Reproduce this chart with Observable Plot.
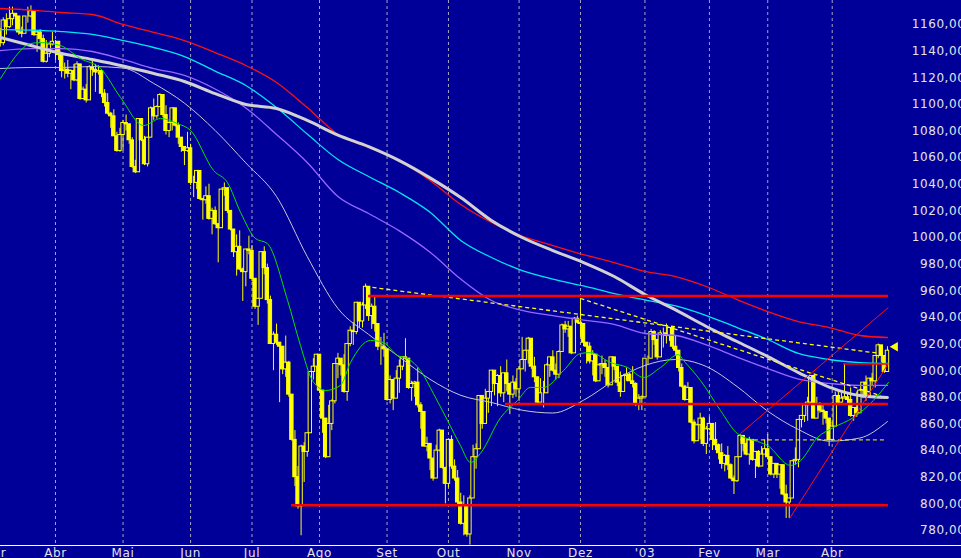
<!DOCTYPE html>
<html><head><meta charset="utf-8">
<script src="https://cdn.jsdelivr.net/npm/d3@7"></script>
<script src="https://cdn.jsdelivr.net/npm/@observablehq/plot@0.6"></script>
<style>
html,body{margin:0;padding:0;background:#000099;overflow:hidden;}
#chart svg{display:block;}
#chart text{letter-spacing:0.6px;}
</style></head><body><div id="chart"></div>
<script>
// Daily sessions from 5 Mar 2002 to 28 Apr 2003 (index = trading day)
const closes = [1146,1163,1158,1164,1168,1166,1154,1153,1166,1166,1170,1152,1154,1149,1132,1138,1145,1147,
1147,1137,1125,1126,1123,1125,1118,1130,1104,1111,1103,1128,1126,1124,1125,1108,1101,1093,1091,1076,1065,1077,
1086,1085,1073,1053,1049,1089,1073,1055,1075,1097,1091,1098,1107,1092,1080,1086,1097,1084,1075,1068,1065,1067,
1041,1041,1050,1029,1028,1031,1014,1020,1010,1007,1036,1037,1020,1006,989,993,976,974,991,990,
969,948,954,989,977,953,920,927,921,918,901,906,882,848,820,798,843,839,853,899,903,912,
885,864,835,860,877,905,909,904,884,920,930,929,951,937,949,963,941,948,935,918,918,916,
878,893,879,894,903,910,909,887,890,891,874,869,843,845,834,819,840,855,827,815,
848,828,819,801,785,799,777,804,835,841,881,860,879,884,900,890,896,883,898,890,882,891,886,
901,908,915,924,903,895,876,883,883,904,910,900,897,914,934,931,933,913,939,936,
935,921,918,907,912,892,904,905,902,889,910,903,891,884,896,897,892,890,875,879,880,
909,909,929,923,910,928,928,926,932,918,915,902,888,878,887,861,847,859,864,845,856,
860,848,844,838,830,836,829,819,817,835,851,845,837,848,833,839,828,837,841,
835,822,830,822,829,807,801,804,832,833,863,866,874,876,896,864,875,870,869,864,848,
858,881,876,879,880,878,866,872,868,885,891,880,894,892,911,919,911,899,915];

const opens = [1154,1146,1163,1158,1164,1168,1166,1154,1153,1166,1166,1170,1152,1154,1149,1132,1138,1145,
1147,1147,1137,1125,1126,1123,1125,1118,1130,1104,1111,1103,1128,1126,1124,1125,1108,1101,1093,1091,1076,1065,
1077,1086,1085,1073,1053,1049,1089,1073,1055,1075,1097,1091,1098,1107,1092,1080,1086,1097,1084,1075,1068,1065,
1067,1041,1041,1050,1029,1028,1031,1014,1020,1010,1007,1036,1037,1020,1006,989,993,976,974,991,
990,969,948,954,989,977,953,920,927,921,918,901,906,882,848,820,798,843,839,853,899,903,
912,885,864,835,860,877,905,909,904,884,920,930,929,951,937,949,963,941,948,935,918,918,
916,878,893,879,894,903,910,909,887,890,891,874,869,843,845,834,819,840,855,827,
815,848,828,819,801,785,799,777,804,835,841,881,860,879,884,900,890,896,883,898,890,882,891,
886,901,908,915,924,903,895,876,883,883,904,910,900,897,914,934,931,933,913,939,
936,935,921,918,907,912,892,904,905,902,889,910,903,891,884,896,897,892,890,875,879,
880,909,909,929,923,910,928,928,926,932,918,915,902,888,878,887,861,847,859,864,845,
856,860,848,844,838,830,836,829,819,817,835,851,845,837,848,833,839,828,837,
841,835,822,830,822,829,807,801,804,832,833,863,866,874,876,896,864,875,870,869,864,
848,858,881,876,879,880,878,866,872,868,885,891,880,894,892,911,919,911,899];

const highs = [1157,1165,1168,1173,1173,1168,1166,1158,1166,1173,1174,1170,1155,1156,1152,1148,1146,1154,
1148,1147,1138,1131,1133,1126,1130,1132,1130,1113,1115,1129,1133,1130,1129,1126,1111,1108,1094,1096,1079,1082,
1088,1092,1085,1075,1058,1089,1089,1076,1075,1098,1104,1099,1108,1107,1099,1087,1097,1097,1086,1075,1068,1079,
1070,1046,1050,1050,1029,1038,1040,1022,1023,1010,1036,1041,1037,1020,1006,1002,1005,977,991,1001,
994,969,954,989,993,980,956,929,935,921,918,926,907,882,855,828,844,846,853,899,909,912,
912,885,864,874,878,905,913,909,912,920,933,936,951,951,951,965,963,950,956,935,925,928,
916,896,893,900,908,910,924,909,892,892,902,876,869,850,845,834,844,856,855,827,
848,851,833,825,808,806,799,806,844,845,881,881,886,884,900,900,897,903,898,908,890,896,894,
903,925,915,925,924,910,895,894,892,905,910,915,905,915,935,937,937,933,940,941,
954,935,921,921,915,912,905,911,908,902,910,910,903,899,897,902,898,903,891,882,881,
909,911,931,930,923,930,932,935,932,932,926,915,905,889,891,887,863,860,868,865,858,
865,860,861,845,845,837,843,830,821,835,852,851,849,850,848,839,840,843,848,
852,835,830,830,829,829,814,804,832,842,863,866,874,880,896,896,880,876,874,869,864,
861,884,885,883,905,883,887,872,884,886,891,896,894,898,911,920,919,911,918];

const lows = [1143,1144,1152,1157,1159,1155,1152,1150,1153,1161,1165,1151,1139,1146,1131,1131,1135,1144,
1133,1133,1120,1119,1120,1111,1117,1117,1103,1104,1101,1103,1121,1109,1122,1105,1098,1092,1082,1076,1064,1064,
1065,1080,1070,1052,1048,1049,1072,1054,1053,1075,1088,1089,1098,1090,1077,1075,1080,1083,1070,1064,1054,1064,
1039,1030,1036,1028,1013,1025,1013,1002,1009,981,1007,1031,1018,1005,985,971,975,952,963,987,
967,946,934,954,972,950,920,900,919,876,897,895,880,847,813,796,776,816,835,853,893,889,
883,853,834,835,855,875,894,896,883,877,918,919,927,932,932,946,937,931,929,915,904,910,
877,875,870,879,883,900,908,886,877,880,872,856,843,839,825,817,819,839,826,800,
812,826,817,799,784,776,775,769,804,826,841,856,860,868,873,881,873,880,876,884,867,879,880,
877,901,899,905,901,891,874,876,872,883,895,899,893,894,914,928,925,912,913,935,
925,918,905,905,896,891,892,897,895,887,889,900,888,880,884,892,892,887,873,870,870,
880,904,909,919,908,910,917,920,922,916,911,899,887,877,878,860,845,847,848,843,837,
855,840,840,833,826,824,825,818,807,816,835,839,836,829,832,819,827,828,837,
833,821,819,819,811,806,789,789,804,829,827,857,861,862,875,864,864,868,859,860,843,
848,858,875,874,879,874,865,862,865,868,879,877,879,888,887,909,906,898,899];

// Month boundaries (trading-day index) and labels
const monthLabels = ["Mar","Abr","Mai","Jun","Jul","Ago","Set","Out","Nov","Dez","'03","Fev","Mar","Abr"];
const monthStarts = [-2,18,40,62,82,104,126,146,169,189,210,231,250,271];
const yTicks = [780,800,820,840,860,880,900,920,940,960,980,1000,1020,1040,1060,1080,1100,1120,1140,1160];

const maIdx = [0,10,20,30,40,50,60,70,80,90,100,110,120,130,140,150,160,170,180,190,200,210,220,230,240,250,260,270,280,289];
const maRed = [1172.0,1170.8,1169.0,1167.5,1160.0,1154.0,1147.9,1138.9,1129.2,1116.4,1097.6,1077.4,1067.6,1057.8,1042.8,1024.8,1011.3,1001.1,994.0,987.2,981.2,974.5,970.7,963.2,953.4,944.4,936.9,932.4,926.4,924.9];
const maCyan = [1156.2,1155.8,1154.7,1152.5,1147.9,1142.7,1135.9,1125.0,1114.2,1097.6,1077.7,1058.6,1045.8,1033.8,1019.0,997.8,985.0,975.2,968.8,963.6,957.9,953.1,948.6,941.4,932.4,923.4,912.9,908.4,906.1,905.4];
const maWhiteThick = [1150.2,1144.2,1138.2,1133.7,1128.8,1123.2,1117.2,1108.1,1099.9,1096.9,1087.9,1076.9,1068.3,1057.8,1044.8,1030.0,1012.8,1000.0,990.2,981.2,970.7,957.2,945.6,933.2,921.9,910.6,898.6,887.7,881.3,879.8];
const maPurple = [1140.4,1141.9,1141.9,1139.7,1133.7,1126.9,1121.7,1111.5,1097.3,1077.4,1056.3,1030.8,1018.0,1005.0,989.0,968.8,952.7,945.3,941.4,938.0,934.7,927.9,926.4,919.3,910.2,901.6,893.7,890.4,888.9,888.9];
const maWhiteThin = [1126.9,1127.7,1127.7,1128.4,1127.3,1115.7,1100.9,1080.4,1056.0,1030.8,985.7,946.7,927.2,910.3,893.5,881.5,876.1,870.3,868.2,877.8,892.6,903.9,908.4,903.1,888.1,869.6,855.8,847.1,849.4,861.8];
const greenIdx = [0.1,3.3,6.6,9.9,13.1,19.6,26.1,32.7,39.2,46.7,52.2,57.7,62.0,69.5,74.0,78.3,83.1,87.0,93.6,97.8,101.7,106.0,110.8,114.1,120.6,124.8,129.4,132.7,136.9,141.1,145.7,149.9,153.2,156.4,163.0,168.5,172.7,177.0,183.5,189.0,192.3,198.8,204.3,209.5,215.1,220.9,222.6,228.1,234.6,240.1,247.6,249.9,257.4,260.7,266.2,271.4,277.9,284.4,289.3];
const greenVal = [1119.4,1130.7,1140.4,1145.7,1146.4,1144.2,1134.4,1126.9,1105.1,1084.1,1089.4,1085.6,1080.4,1050.3,1041.3,1018.8,999.3,995.5,952.7,918.9,892.6,885.1,888.9,906.1,922.7,921.1,911.4,909.1,900.1,882.8,862.6,843.8,831.0,837.8,864.8,877.6,887.4,887.4,900.1,912.9,913.6,906.1,902.4,894.9,902.4,912.1,907.6,892.6,870.1,852.8,846.1,843.8,828.8,832.5,849.8,857.3,864.8,877.6,891.1];

// Drawn studies
const levelVal = [956, 875, 799];
const levelStart = [120, 164.6, 94.9];
const levelEnd = [289.3, 289.3, 289.3];
const thinLevelVal = [905];
const thinLevelStart = [274.7];
const thinLevelEnd = [289.3];
const trendX1 = [119, 189], trendY1 = [963.2, 954.2], trendX2 = [286.7, 286.7], trendY2 = [912.9, 881.3];
const diagX1 = [241.1, 257.1], diagY1 = [852.8, 789.0], diagX2 = [289.3, 289.3], diagY2 = [947.4, 905.4];
const dashLevelVal = [848], dashLevelStart = [241.1], dashLevelEnd = [288.9];

// ---- build tables
const data = closes.map((c, i) => ({i, open: opens[i], high: highs[i], low: lows[i], close: c}));
const ma = (vals) => maIdx.map((d, k) => ({i: d, v: vals[k]}));
const green = greenIdx.map((d, k) => ({i: d, v: greenVal[k]}));
const levels = levelVal.map((v, k) => ({v, a: levelStart[k], b: levelEnd[k]}));
const thinLevels = thinLevelVal.map((v, k) => ({v, a: thinLevelStart[k], b: thinLevelEnd[k]}));
const dashLevels = dashLevelVal.map((v, k) => ({v, a: dashLevelStart[k], b: dashLevelEnd[k]}));
const trends = trendX1.map((x, k) => ({x1: x, y1: trendY1[k], x2: trendX2[k], y2: trendY2[k]}));
const diags = diagX1.map((x, k) => ({x1: x, y1: diagY1[k], x2: diagX2[k], y2: diagY2[k]}));
const last = data[data.length - 1];

const BG = "#000099";
const pxPerDay = 3.07;
const xDomain = [0.085, 0.085 + 893 / pxPerDay];
const yDomain = [768.7, 1178.0];

const chart = Plot.plot({
  width: 961, height: 558,
  marginLeft: 0, marginRight: 68, marginTop: 0, marginBottom: 13,
  style: {background: BG, color: "#e4e4e4", fontFamily: "'DejaVu Sans', Verdana, sans-serif", fontSize: "12px"},
  x: {domain: xDomain, axis: null},
  y: {domain: yDomain, axis: null},
  marks: [
    Plot.ruleX(monthStarts.slice(1), {stroke: "#a4a4c4", strokeDasharray: "3,3", strokeWidth: 1}),
    Plot.ruleY([yDomain[0]], {stroke: "#ffffff", strokeWidth: 1, insetRight: -68}),
    Plot.axisX(monthStarts, {anchor: "bottom", tickSize: 0, tickPadding: 3, fill: "#e4e4e4",
      tickFormat: d => monthLabels[monthStarts.indexOf(d)]}),
    Plot.axisY(yTicks, {anchor: "right", tickSize: 0, tickPadding: 72, textAnchor: "end", fill: "#e4e4e4",
      tickFormat: d => d.toFixed(2).replace(".", ",")}),
    // candles
    Plot.ruleX(data, {x: "i", y1: "low", y2: "high", stroke: "#ffff00", strokeWidth: 1}),
    Plot.rect(data, {x1: d => d.i - 0.55, x2: d => d.i + 0.55, y1: "open", y2: "close",
      fill: d => d.close < d.open ? "#ffff00" : BG, stroke: "#ffff00", strokeWidth: 1}),
    // moving averages
    Plot.line(ma(maWhiteThin), {x: "i", y: "v", stroke: "#c8c8d8", strokeWidth: 1, curve: "monotone-x"}),
    Plot.line(ma(maPurple), {x: "i", y: "v", stroke: "#9966ff", strokeWidth: 1.3, curve: "monotone-x"}),
    Plot.line(ma(maCyan), {x: "i", y: "v", stroke: "#00e8f0", strokeWidth: 1.3, curve: "monotone-x"}),
    Plot.line(ma(maRed), {x: "i", y: "v", stroke: "#ff1010", strokeWidth: 1.3, curve: "monotone-x"}),
    Plot.line(ma(maWhiteThick), {x: "i", y: "v", stroke: "#d2d2d2", strokeWidth: 3, curve: "monotone-x"}),
    Plot.line(green, {x: "i", y: "v", stroke: "#00e400", strokeWidth: 1, curve: "monotone-x"}),
    // studies
    Plot.link(trends, {x1: "x1", y1: "y1", x2: "x2", y2: "y2", stroke: "#ffff00", strokeWidth: 1.3, strokeDasharray: "4,3"}),
    Plot.ruleY(dashLevels, {y: "v", x1: "a", x2: "b", stroke: "#ffff00", strokeWidth: 1, strokeDasharray: "4,3"}),
    Plot.link(diags, {x1: "x1", y1: "y1", x2: "x2", y2: "y2", stroke: "#ff1010", strokeWidth: 1}),
    Plot.ruleY(levels, {y: "v", x1: "a", x2: "b", stroke: "#ff0000", strokeWidth: 2.5}),
    Plot.ruleY(thinLevels, {y: "v", x1: "a", x2: "b", stroke: "#ff0000", strokeWidth: 1.3}),
    Plot.dot([last], {x: d => d.i + 2.5, y: "high", symbol: "triangle", rotate: -90, r: 3.5, fill: "#ffff00", stroke: null})
  ]
});
document.getElementById("chart").appendChild(chart);
</script>
</body></html>
